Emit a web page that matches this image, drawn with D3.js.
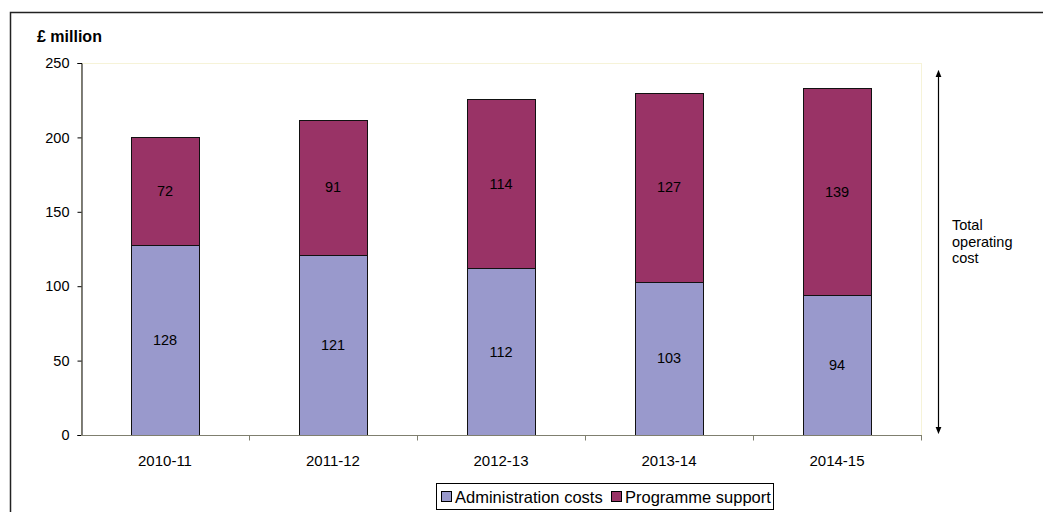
<!DOCTYPE html>
<html>
<head>
<meta charset="utf-8">
<script src="https://cdn.jsdelivr.net/npm/d3@7"></script>
<style>
  html, body { margin: 0; padding: 0; background: #fff; }
  svg { display: block; font-family: "Liberation Sans", Arial, sans-serif; }
</style>
</head>
<body>
<svg id="chart" width="1043" height="512"></svg>
<script>
// Operating cost by year, £ million
const years = ["2010-11", "2011-12", "2012-13", "2013-14", "2014-15"];
const adminCosts = [128, 121, 112, 103, 94];
const programmeSupport = [72, 91, 114, 127, 139];
const seriesNames = ["Administration costs", "Programme support"];
const seriesColors = ["#9999cc", "#993366"];
const yTicks = [0, 50, 100, 150, 200, 250];

const svg = d3.select("#chart");

// Outer frame
svg.append("rect")
  .attr("x", 10.5).attr("y", 12.5)
  .attr("width", 1100).attr("height", 600)
  .attr("fill", "none").attr("stroke", "#222").attr("stroke-width", 1.5);

const plot = { left: 81, right: 921, top: 63, bottom: 435 };

const x = d3.scaleBand().domain(years).range([plot.left, plot.right]).paddingInner(0.595).paddingOuter(0.2975);
const xCat = d3.scaleBand().domain(years).range([plot.left, plot.right]);
const y = d3.scaleLinear().domain([0, 250]).range([plot.bottom, plot.top]);

// Plot area outline
svg.append("rect")
  .attr("x", plot.left + 0.5).attr("y", plot.top + 0.5)
  .attr("width", plot.right - plot.left).attr("height", plot.bottom - plot.top)
  .attr("fill", "#fff").attr("stroke", "#f6f3d8").attr("stroke-width", 1);

// Stacked data
const rows = years.map((yr, i) => ({ year: yr, admin: adminCosts[i], programme: programmeSupport[i] }));
const stack = d3.stack().keys(["admin", "programme"]);
const layers = stack(rows);

const g = svg.append("g");
layers.forEach((layer, li) => {
  g.selectAll(null).data(layer).enter().append("rect")
    .attr("x", d => Math.round(x(d.data.year)) + 0.5)
    .attr("y", d => Math.round(y(d[1])) + 0.5)
    .attr("width", Math.round(x.bandwidth()))
    .attr("height", d => Math.round(y(d[0])) - Math.round(y(d[1])))
    .attr("fill", seriesColors[li])
    .attr("stroke", "#111").attr("stroke-width", 1);
  g.selectAll(null).data(layer).enter().append("text")
    .attr("x", d => x(d.data.year) + x.bandwidth() / 2)
    .attr("y", d => (y(d[0]) + y(d[1])) / 2)
    .attr("dy", "0.35em")
    .attr("text-anchor", "middle")
    .attr("font-size", 14.5)
    .attr("fill", "#000")
    .text(d => d[1] - d[0]);
});

// Y axis
const yAxis = d3.axisLeft(y).tickValues(yTicks).tickSize(4).tickPadding(8);
const ya = svg.append("g").attr("transform", `translate(${plot.left + 0.5},0)`).call(yAxis);
ya.select(".domain").attr("stroke", "#000");
ya.selectAll(".tick line").attr("stroke", "#000");
ya.selectAll("text").attr("font-size", 14.5).attr("fill", "#000").attr("font-family", "Liberation Sans, Arial, sans-serif");

// X axis: ticks on category boundaries
const xa = svg.append("g").attr("transform", `translate(0,${plot.bottom + 0.5})`);
xa.append("line")
  .attr("x1", plot.left).attr("x2", plot.right + 1)
  .attr("stroke", "#7f7f6f").attr("stroke-width", 1.2);
xa.selectAll(null).data(years).enter().append("line")
  .attr("x1", d => Math.round(xCat(d) + xCat.bandwidth()) + 0.5)
  .attr("x2", d => Math.round(xCat(d) + xCat.bandwidth()) + 0.5)
  .attr("y1", 0).attr("y2", 5)
  .attr("stroke", "#7f7f6f");
xa.selectAll(null).data(years).enter().append("text")
  .attr("x", d => xCat(d) + xCat.bandwidth() / 2)
  .attr("y", 25)
  .attr("dy", "0.35em")
  .attr("text-anchor", "middle")
  .attr("font-size", 15)
  .attr("fill", "#000")
  .text(d => d);

// Unit label
svg.append("text")
  .attr("x", 37).attr("y", 42)
  .attr("font-size", 16).attr("font-weight", "bold")
  .attr("fill", "#000")
  .text("£ million");

// Double-headed arrow for total operating cost
const defs = svg.append("defs");
["start", "end"].forEach(k => {
  defs.append("marker")
    .attr("id", "arrow-" + k)
    .attr("viewBox", "0 0 10 10")
    .attr("refX", 5).attr("refY", 5)
    .attr("markerWidth", 6).attr("markerHeight", 6)
    .attr("orient", k === "start" ? "auto-start-reverse" : "auto")
    .append("path").attr("d", "M0,1 L10,5 L0,9 Z").attr("fill", "#000");
});
svg.append("line")
  .attr("x1", 938.5).attr("x2", 938.5)
  .attr("y1", y(243)).attr("y2", y(3))
  .attr("stroke", "#000").attr("stroke-width", 1.2)
  .attr("marker-start", "url(#arrow-start)")
  .attr("marker-end", "url(#arrow-end)");
const note = svg.append("text").attr("x", 952).attr("y", 230).attr("font-size", 14.5).attr("fill", "#000");
["Total", "operating", "cost"].forEach((t, i) => {
  note.append("tspan").attr("x", 952).attr("dy", i === 0 ? 0 : 16.5).text(t);
});

// Legend
const legend = svg.append("g");
legend.append("rect")
  .attr("x", 436.5).attr("y", 483.5).attr("width", 337).attr("height", 26)
  .attr("fill", "#fff").attr("stroke", "#000");
const items = [{ x: 441, tx: 455 }, { x: 611, tx: 625 }];
seriesNames.forEach((name, i) => {
  legend.append("rect")
    .attr("x", items[i].x + 0.5).attr("y", 491.5).attr("width", 10).attr("height", 10)
    .attr("fill", seriesColors[i]).attr("stroke", "#000");
  legend.append("text")
    .attr("x", items[i].tx).attr("y", 497).attr("dy", "0.35em")
    .attr("font-size", 16.5).attr("fill", "#000")
    .text(name);
});
</script>
</body>
</html>
